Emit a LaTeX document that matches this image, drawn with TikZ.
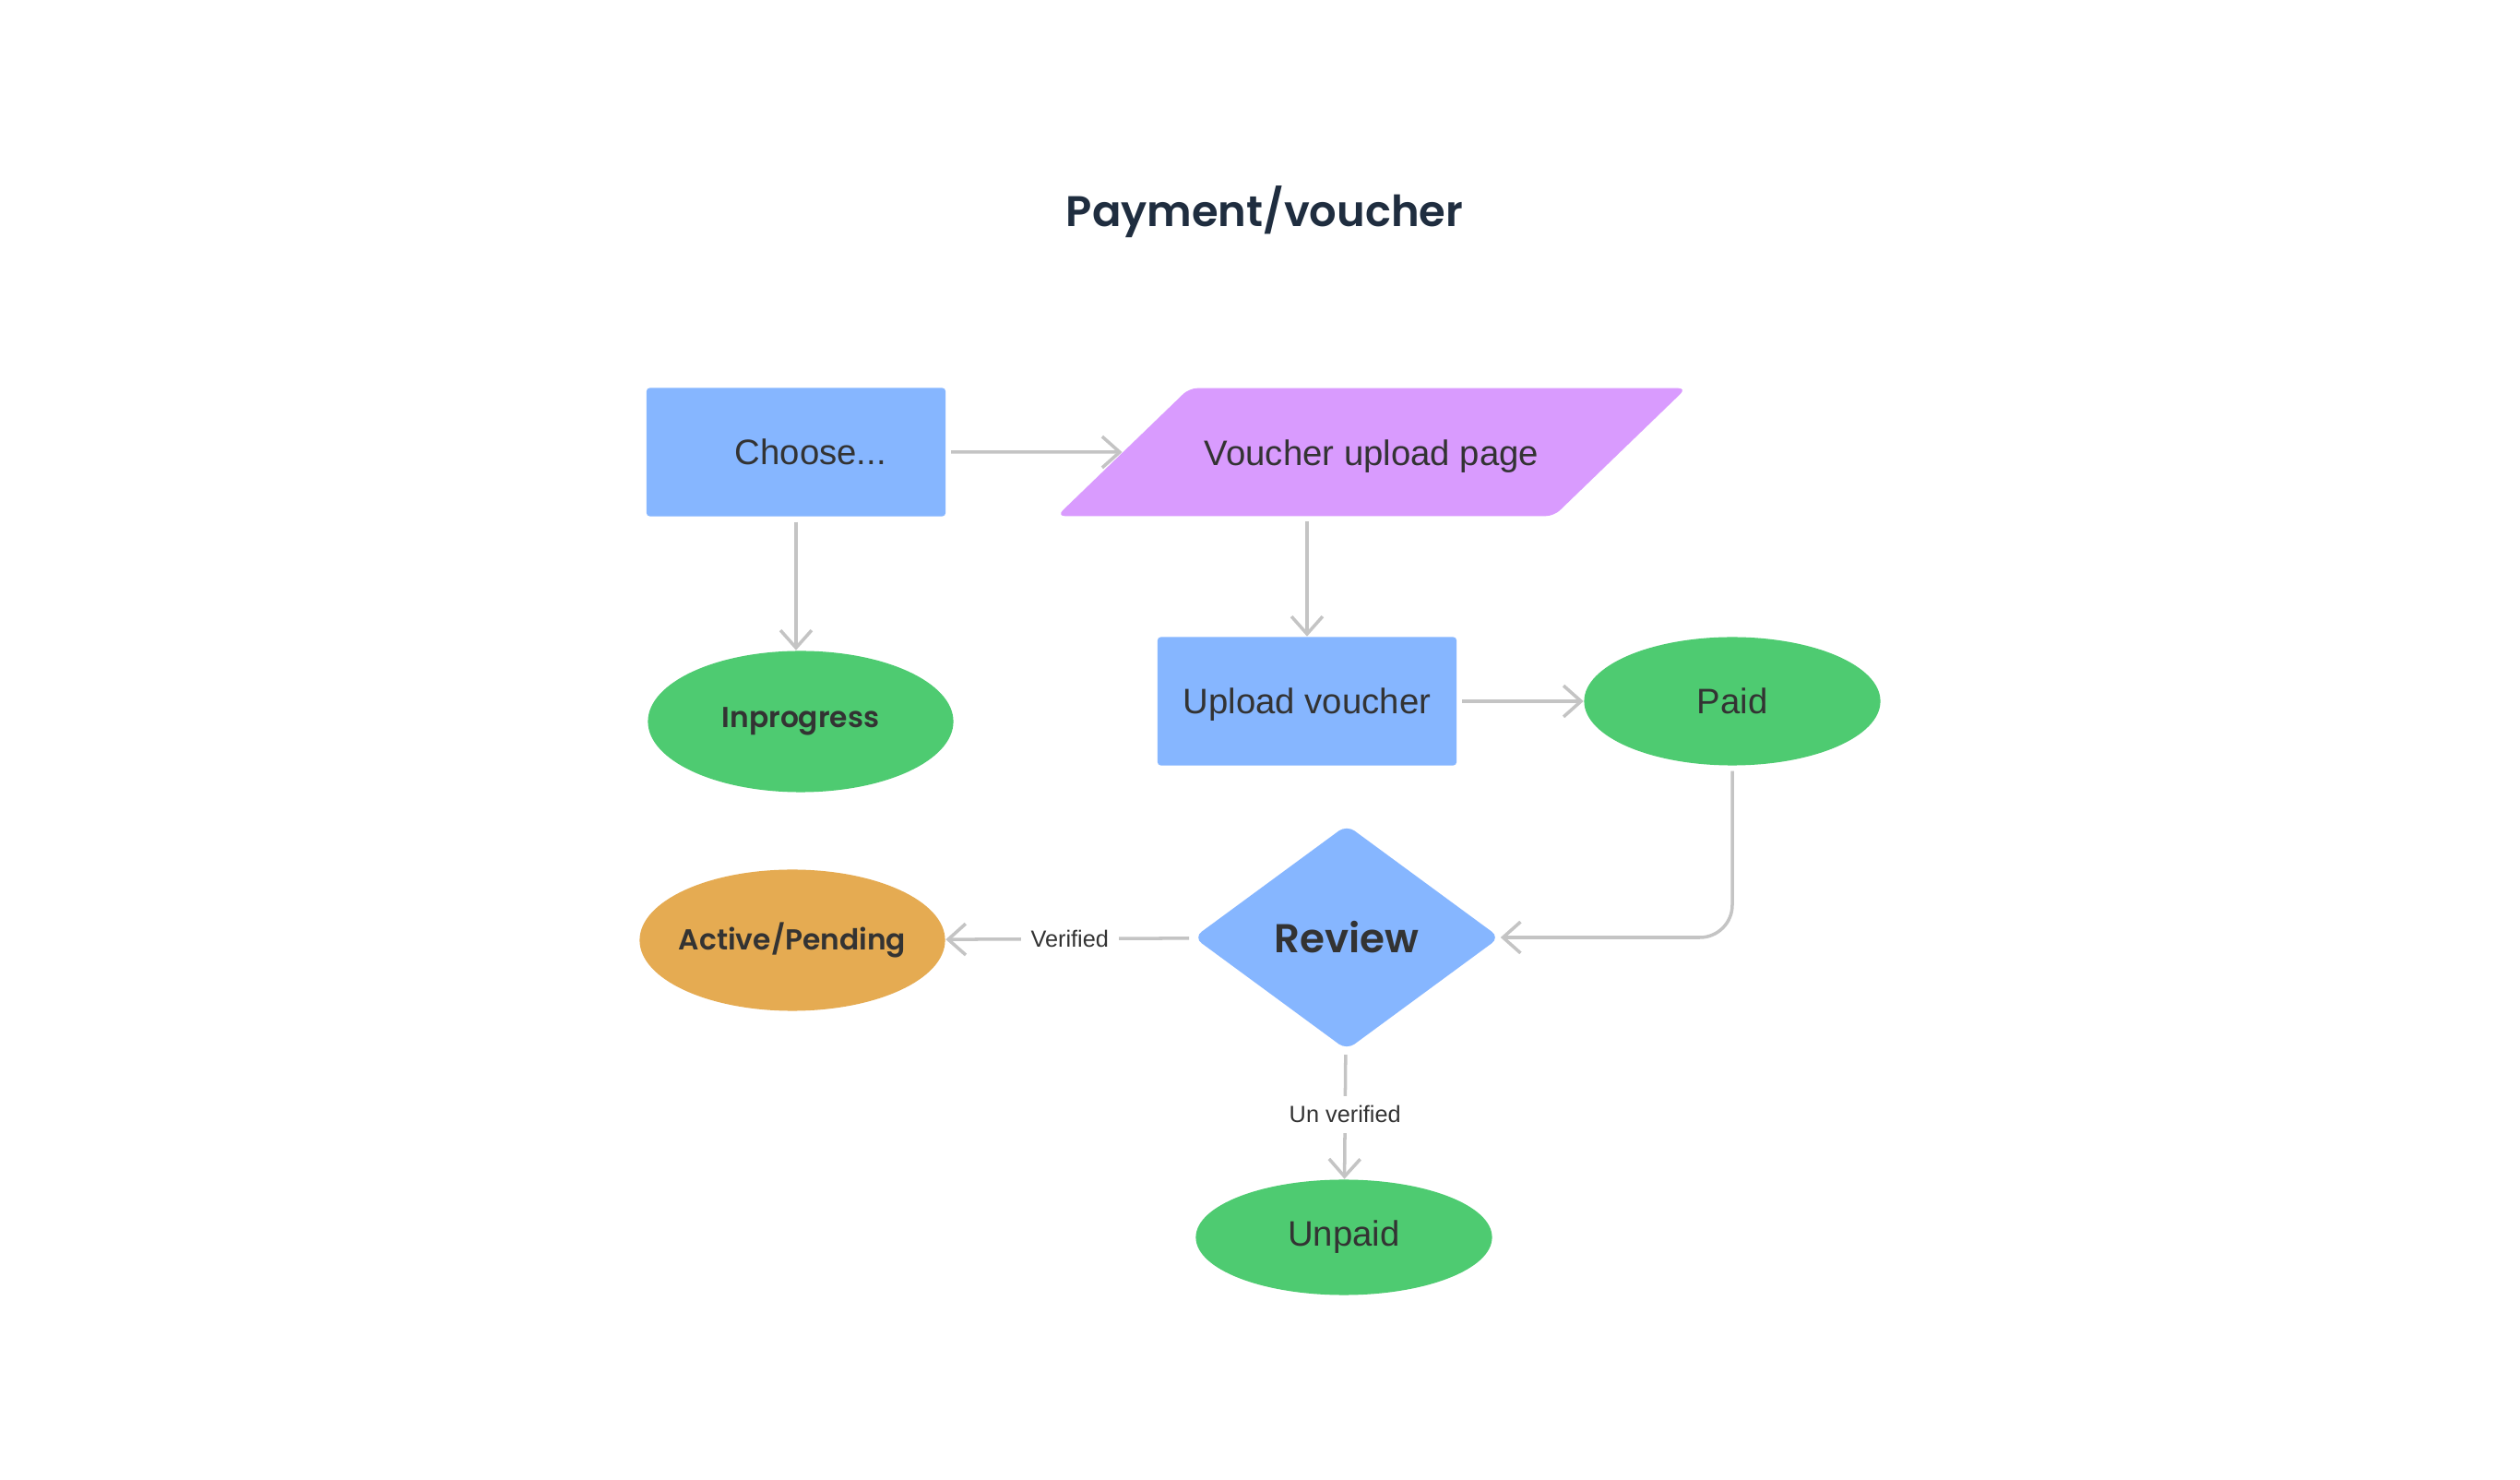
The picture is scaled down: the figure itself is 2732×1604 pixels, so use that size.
\documentclass[tikz,border=0pt]{standalone}
\usepackage{fontspec}
\setmainfont{Liberation Sans}
\newfontfamily\geofont{Poppins}[BoldFont={Poppins SemiBold}]
\usetikzlibrary{shapes.geometric, arrows.meta}
\usepackage{xcolor}

\definecolor{boxblue}{HTML}{86B6FF}
\definecolor{pagepurple}{HTML}{D99BFE}
\definecolor{stategreen}{HTML}{4ECB71}
\definecolor{stateorange}{HTML}{E5AB52}
\definecolor{linegray}{HTML}{C4C4C4}
\definecolor{txtgray}{HTML}{333333}
\definecolor{titlenavy}{HTML}{1F2D3F}

\tikzset{
    procbox/.style={rectangle, fill=boxblue, rounded corners=1pt, minimum width=3.24cm, minimum height=1.39cm, inner sep=0pt, text depth=0pt, text=txtgray, font=\fontsize{10.9}{12}\selectfont},
    pagebox/.style={trapezium, trapezium left angle=44, trapezium right angle=136, trapezium stretches body=true, fill=pagepurple, rounded corners=2.5pt, minimum width=6.82cm, text height=8pt, text depth=0pt, inner xsep=0pt, inner ysep=15.7pt, text=txtgray, font=\fontsize{10.9}{12}\selectfont},
    stateoval/.style={ellipse, fill=stategreen, inner sep=0pt, text=txtgray, font=\fontsize{10.9}{12}\selectfont},
    boldoval/.style={stateoval, inner xsep=-12pt, minimum width=3.31cm, minimum height=1.53cm, font=\geofont\bfseries\fontsize{8.9}{10}\selectfont},
    checkbox/.style={diamond, fill=boxblue, rounded corners=3pt, minimum width=3.32cm, minimum height=2.44cm, inner sep=0pt, text=txtgray, font=\geofont\bfseries\fontsize{12.4}{14}\selectfont},
    flow/.style={draw=linegray, line width=1pt, -{Straight Barb[length=5.4pt,width=9.6pt]}, shorten <=1.5pt},
    flowlabel/.style={fill=white, inner sep=3pt, text=txtgray, font=\fontsize{7.2}{8}\selectfont},
}

\begin{document}
\begin{tikzpicture}[x=0.01cm, y=-0.01cm]
    % page, in pixels of the reference
    \fill[white] (0,0) rectangle (2732,1604);

    % Title
    \node[text=titlenavy, font=\geofont\bfseries\fontsize{13.2}{16}\selectfont] (title) at (1371,230) {Payment/voucher};

    % Top row
    \node[procbox] (choose) at (863,490) {\hspace{9pt}Choose...};
    \node[pagebox] (voucher) at (1487,490) {Voucher upload page};

    % Middle row
    \node[boldoval] (inprogress) at (868,782) {Inprogress};
    \node[procbox] (upload) at (1417,760) {Upload voucher};
    \node[stateoval, minimum width=3.21cm, minimum height=1.39cm] (paid) at (1878,760) {Paid};

    % Review step
    \node[checkbox] (review) at (1460,1016) {Review};
    \node[boldoval, fill=stateorange] (active) at (859,1019) {Active/Pending};
    \node[stateoval, minimum width=3.21cm, minimum height=1.25cm] (unpaid) at (1457,1341) {Unpaid};

    % Connectors
    \draw[flow] (choose) -- (voucher);
    \draw[flow] (choose.south) -- (choose.south |- inprogress.north);
    \draw[flow] (voucher.south -| upload.north) -- (upload);
    \draw[flow] (upload) -- (paid);
    \draw[flow, rounded corners=10pt] (paid.south) |- (review.east);
    \draw[flow] (review) -- node[flowlabel] {Verified} (active);
    \draw[flow] (review) -- node[flowlabel] {Un verified} (unpaid);
\end{tikzpicture}
\end{document}
